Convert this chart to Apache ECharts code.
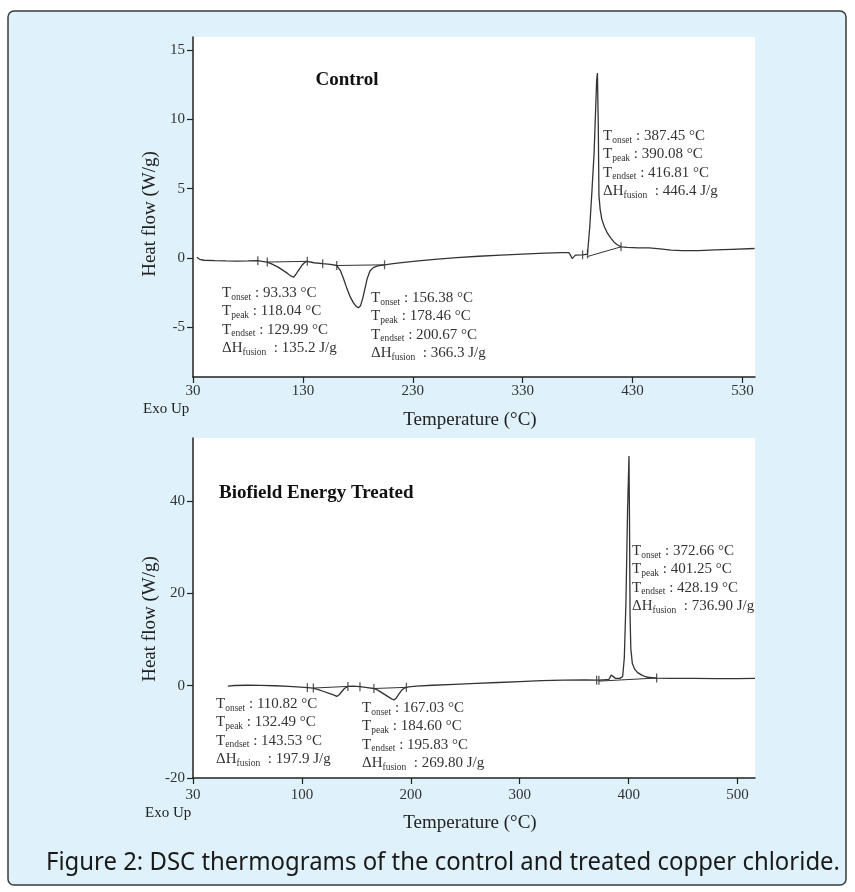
<!DOCTYPE html>
<html>
<head>
<meta charset="utf-8">
<title>DSC thermograms</title>
<script src="https://cdn.jsdelivr.net/npm/echarts@6/dist/echarts.min.js"></script>
<style>
  html, body { margin: 0; padding: 0; background: #fff; }
  #chart { width: 855px; height: 892px; }
</style>
</head>
<body>
<div id="chart"></div>
<script>
// ---- Control (top panel) ----
var controlCurve = [
  [33.5, 0.05], [36, -0.1], [40, -0.17], [50, -0.2], [60, -0.22], [70, -0.23], [80, -0.22],
  [89, -0.2], [93, -0.25], [97.6, -0.3], [102, -0.45], [107, -0.65], [112, -0.9], [116, -1.12],
  [119, -1.3], [121.5, -1.4], [123.5, -1.2], [126, -0.9], [129, -0.55], [132, -0.3], [134, -0.25],
  [140, -0.35], [148, -0.42], [155, -0.47], [160.8, -0.55], [164, -0.9], [167, -1.5], [170, -2.2],
  [173, -2.8], [176, -3.25], [178.5, -3.5], [180.5, -3.6], [182.5, -3.45], [184.5, -2.9],
  [186.5, -2.2], [188.5, -1.5], [191, -0.95], [194, -0.7], [198, -0.57], [204.3, -0.5],
  [212, -0.42], [222, -0.33], [235, -0.22], [250, -0.1], [270, 0.02], [290, 0.12], [310, 0.2],
  [330, 0.27], [350, 0.34], [366, 0.38], [372, 0.38], [373.5, 0.2], [375, -0.05], [376.5, 0.05],
  [378, 0.2], [384.5, 0.22], [389, 0.28], [391, 2.2], [393, 4.8], [395, 7.6], [397.3, 12.8],
  [398, 13.35], [398.8, 9.5], [399.4, 4.5], [400.5, 3.5], [402, 2.8], [404.3, 2.25], [407, 1.8],
  [410, 1.45], [413, 1.15], [416, 0.95], [419.5, 0.8], [425, 0.76], [435, 0.72], [445, 0.72],
  [455, 0.65], [465, 0.56], [475, 0.52], [490, 0.53], [505, 0.58], [520, 0.62], [541, 0.68]
];
var controlMarks = [[89, -0.2], [97.6, -0.3], [134, -0.25], [148, -0.42], [160.8, -0.55],
  [204.3, -0.5], [384.5, 0.22], [389, 0.28], [419.5, 0.8]];
var controlBaselines = [
  [[97.6, -0.3], [134, -0.25]],
  [[160.8, -0.55], [204.3, -0.5]],
  [[389, 0.1], [419.5, 0.8]]
];
var controlXTicks = [30, 130, 230, 330, 430, 530];
var controlYTicks = [-5, 0, 5, 10, 15];
var controlNotes = [
  ['93.33', '118.04', '129.99', '135.2'],
  ['156.38', '178.46', '200.67', '366.3'],
  ['387.45', '390.08', '416.81', '446.4']
];

// ---- Biofield Energy Treated (bottom panel) ----
var treatedCurve = [
  [32, -0.1], [38, 0.05], [50, 0.1], [62, 0.08], [75, 0.0], [88, -0.15], [99, -0.3], [105, -0.4],
  [110.5, -0.5], [115, -0.85], [120, -1.25], [125, -1.65], [129, -2.0], [132, -2.3], [134, -2.0],
  [136.5, -1.3], [139, -0.6], [142.2, -0.15], [147, -0.1], [153.3, -0.2], [160, -0.4],
  [166.1, -0.6], [170, -1.0], [174, -1.6], [178, -2.2], [182, -2.8], [184.5, -3.1], [186.5, -2.7],
  [189, -1.8], [191.5, -1.0], [194, -0.5], [198, -0.25], [205, -0.1], [220, 0.1], [240, 0.3],
  [260, 0.5], [280, 0.7], [300, 0.9], [320, 1.1], [340, 1.2], [360, 1.25], [370.6, 1.2],
  [372.7, 1.2], [378, 1.3], [382, 1.4], [384, 2.3], [385.5, 2.0], [388, 1.6], [392, 1.6],
  [394.5, 2.0], [396, 6], [397.5, 18], [399, 38], [400.3, 49.8], [400.8, 35], [401.3, 15],
  [402, 8], [403.4, 4.8], [405.5, 3.6], [408, 2.9], [412, 2.3], [415.6, 1.95], [420, 1.78],
  [425.7, 1.67], [440, 1.6], [460, 1.58], [480, 1.56], [500, 1.56], [516, 1.58]
];
var treatedMarks = [[105, -0.4], [110.5, -0.5], [142.2, -0.15], [153.3, -0.2], [166.1, -0.6],
  [195.9, -0.35], [370.6, 1.2], [372.7, 1.2], [425.7, 1.67]];
var treatedBaselines = [
  [[110.5, -0.5], [142.2, -0.15]],
  [[166.1, -0.6], [195.9, -0.35]],
  [[372.7, 1.0], [425.7, 1.67]]
];
var treatedXTicks = [0, 100, 200, 300, 400, 500];
var treatedXLabels = ['30', '100', '200', '300', '400', '500'];
var treatedYTicks = [-20, 0, 20, 40];
var treatedNotes = [
  ['110.82', '132.49', '143.53', '197.9'],
  ['167.03', '184.60', '195.83', '269.80'],
  ['372.66', '401.25', '428.19', '736.90']
];

var caption = 'Figure 2: DSC thermograms of the control and treated copper chloride.';

var SERIF = '"Liberation Serif", "Times New Roman", serif';
var INK = '#333';

var chart = echarts.init(document.getElementById('chart'));

function xAxisFor(idx, min, max, ticks, labelFn, margin) {
  return {
    type: 'value', gridIndex: idx, min: min, max: max,
    axisLine: { show: true, onZero: false, lineStyle: { color: '#222', width: 1.5 } },
    axisTick: { show: true, customValues: ticks, length: 6, lineStyle: { color: '#222', width: 1.2 } },
    axisLabel: {
      customValues: ticks, margin: margin, color: '#333', fontFamily: SERIF, fontSize: 15,
      formatter: labelFn
    },
    splitLine: { show: false }
  };
}
function yAxisFor(idx, min, max, ticks) {
  return {
    type: 'value', gridIndex: idx, min: min, max: max,
    axisLine: { show: true, onZero: false, lineStyle: { color: '#222', width: 1.5 } },
    axisTick: { show: true, customValues: ticks, length: 6, lineStyle: { color: '#222', width: 1.2 } },
    axisLabel: { customValues: ticks, margin: 8, color: '#333', fontFamily: SERIF, fontSize: 15 },
    splitLine: { show: false }
  };
}

function panelSeries(idx, curve, marks, baselines) {
  var out = [{
    type: 'line', xAxisIndex: idx, yAxisIndex: idx, data: curve,
    showSymbol: false, lineStyle: { color: INK, width: 1.3 }
  }];
  baselines.forEach(function (seg) {
    out.push({
      type: 'line', xAxisIndex: idx, yAxisIndex: idx, data: seg,
      showSymbol: false, lineStyle: { color: INK, width: 1 }
    });
  });
  out.push({
    type: 'scatter', xAxisIndex: idx, yAxisIndex: idx, data: marks,
    symbol: 'rect', symbolSize: [1.3, 9], itemStyle: { color: INK }
  });
  return out;
}

function noteText(v) {
  return '{m|T}{s|onset}{m| : ' + v[0] + ' \u00b0C}\n' +
         '{m|T}{s|peak}{m| : ' + v[1] + ' \u00b0C}\n' +
         '{m|T}{s|endset}{m| : ' + v[2] + ' \u00b0C}\n' +
         '{m|\u0394H}{s|fusion}{m|  : ' + v[3] + ' J/g}';
}
var noteRich = {
  m: { fontFamily: SERIF, fontSize: 15, lineHeight: 18.3, fill: '#333' },
  s: { fontFamily: SERIF, fontSize: 9.5, lineHeight: 18.3, fill: '#333', verticalAlign: 'bottom' }
};
function note(x, y, v) {
  return {
    type: 'text', x: x, y: y, silent: true,
    style: { text: noteText(v), rich: noteRich, align: 'left', verticalAlign: 'top' }
  };
}
function plainText(x, y, text, size, opts) {
  opts = opts || {};
  return {
    type: 'text', x: x, y: y, rotation: opts.rotation || 0, silent: true,
    style: {
      text: text, fontFamily: opts.family || SERIF, fontSize: size,
      fontWeight: opts.bold ? 'bold' : 'normal', fill: opts.color || '#222',
      align: opts.align || 'center', verticalAlign: 'middle'
    }
  };
}

// caption is drawn in a condensed look: squeeze a normal sans to the width of the original
var ctx = document.createElement('canvas').getContext('2d');
ctx.font = '26px "Noto Sans"';
var capScale = 794 / ctx.measureText(caption).width;

var option = {
  animation: false,
  backgroundColor: '#fff',
  grid: [
    { left: 193, top: 37, width: 562, height: 340, show: true, backgroundColor: '#fff', borderWidth: 0 },
    { left: 193, top: 438, width: 562, height: 340, show: true, backgroundColor: '#fff', borderWidth: 0 }
  ],
  xAxis: [
    xAxisFor(0, 30, 541.4, controlXTicks, null, 7),
    xAxisFor(1, 0, 516, treatedXTicks, function (v) {
      return treatedXLabels[treatedXTicks.indexOf(v)];
    }, 10)
  ],
  yAxis: [
    yAxisFor(0, -8.6, 15.95, controlYTicks),
    yAxisFor(1, -20, 53.7, treatedYTicks)
  ],
  series: panelSeries(0, controlCurve, controlMarks, controlBaselines)
    .concat(panelSeries(1, treatedCurve, treatedMarks, treatedBaselines)),
  graphic: [
    {
      type: 'rect', z: -10, silent: true,
      shape: { x: 8, y: 11, width: 838, height: 874, r: 6 },
      style: { fill: '#dff1fb', stroke: '#3a3a3a', lineWidth: 1.5 }
    },
    plainText(347, 80, 'Control', 19, { bold: true, color: '#111' }),
    plainText(219, 493, 'Biofield Energy Treated', 19, { bold: true, color: '#111', align: 'left' }),
    plainText(150, 214, 'Heat flow (W/g)', 19, { rotation: Math.PI / 2 }),
    plainText(150, 619, 'Heat flow (W/g)', 19, { rotation: Math.PI / 2 }),
    plainText(470, 420, 'Temperature (\u00b0C)', 19),
    plainText(470, 823, 'Temperature (\u00b0C)', 19),
    plainText(143, 409, 'Exo Up', 15, { align: 'left' }),
    plainText(145, 813, 'Exo Up', 15, { align: 'left' }),
    note(222, 284, controlNotes[0]),
    note(371, 289, controlNotes[1]),
    note(603, 127, controlNotes[2]),
    note(216, 695, treatedNotes[0]),
    note(362, 699, treatedNotes[1]),
    note(632, 542, treatedNotes[2]),
    {
      type: 'text', x: 443, y: 863, scaleX: capScale, silent: true,
      style: {
        text: caption, fontFamily: '"Noto Sans"', fontSize: 26, fill: '#1a1a1a',
        align: 'center', verticalAlign: 'middle'
      }
    }
  ]
};
chart.setOption(option);
</script>
</body>
</html>
